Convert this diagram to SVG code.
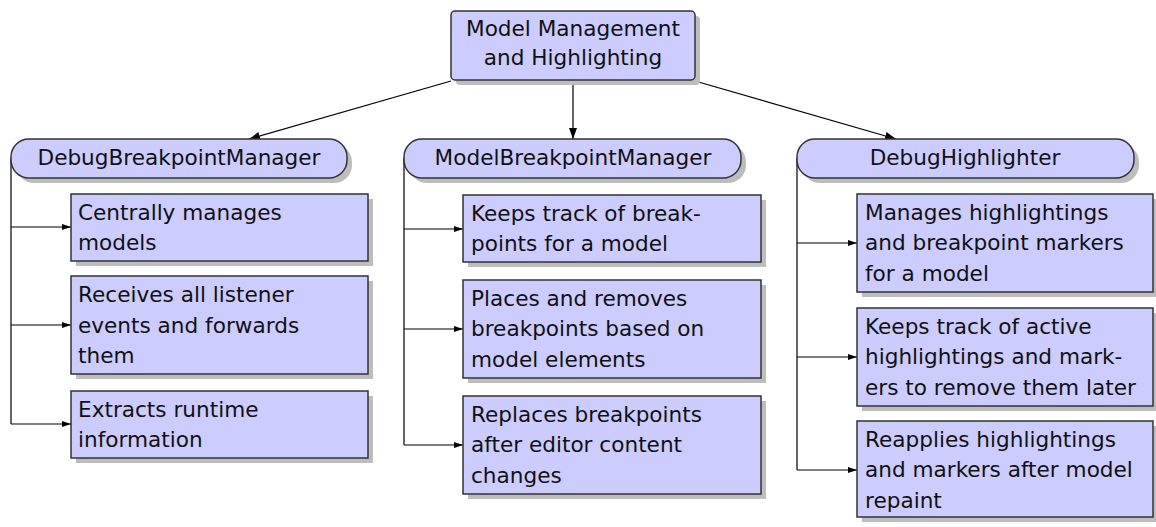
<svg xmlns="http://www.w3.org/2000/svg" width="1156" height="527" viewBox="0 0 1156 527">
<defs>
<marker id="big" markerWidth="12" markerHeight="10" refX="11" refY="4" orient="auto" markerUnits="userSpaceOnUse"><path d="M0,0 L11,4 L0,8 z" fill="#000"/></marker>
<marker id="sm" markerWidth="10" markerHeight="8" refX="9" refY="3" orient="auto" markerUnits="userSpaceOnUse"><path d="M0,0 L9,3 L0,6 z" fill="#000"/></marker>
</defs>
<style>
.box{fill:#ccccff;stroke:#333;stroke-width:1.5}
.sh{fill:#bdbdbd}
.t{font-family:"DejaVu Sans",sans-serif;font-size:21.6px;fill:#111}
.c{text-anchor:middle}
.ln{fill:none;stroke:#000;stroke-width:1.2}
</style>
<rect width="1156" height="527" fill="#fff"/>
<g id="connectors">
<line class="ln" x1="451" y1="81" x2="249" y2="139" marker-end="url(#big)"/>
<line class="ln" x1="573" y1="81" x2="573" y2="139" marker-end="url(#big)"/>
<line class="ln" x1="695" y1="81" x2="896" y2="139" marker-end="url(#big)"/>
<path class="ln" d="M11,158 V424"/>
<line class="ln" x1="11" y1="227" x2="71" y2="227" marker-end="url(#sm)"/>
<line class="ln" x1="11" y1="325" x2="71" y2="325" marker-end="url(#sm)"/>
<line class="ln" x1="11" y1="424" x2="71" y2="424" marker-end="url(#sm)"/>
<path class="ln" d="M404,158 V445"/>
<line class="ln" x1="404" y1="229" x2="463" y2="229" marker-end="url(#sm)"/>
<line class="ln" x1="404" y1="329" x2="463" y2="329" marker-end="url(#sm)"/>
<line class="ln" x1="404" y1="445" x2="463" y2="445" marker-end="url(#sm)"/>
<path class="ln" d="M797,158 V470"/>
<line class="ln" x1="797" y1="243" x2="857" y2="243" marker-end="url(#sm)"/>
<line class="ln" x1="797" y1="357" x2="857" y2="357" marker-end="url(#sm)"/>
<line class="ln" x1="797" y1="470" x2="857" y2="470" marker-end="url(#sm)"/>
</g>
<g id="root">
<rect class="sh" x="456" y="16" width="244" height="69" rx="4"/>
<rect class="box" x="451" y="11" width="244" height="69" rx="4"/>
<text class="t c" x="573" y="36">Model Management</text>
<text class="t c" x="573" y="65">and Highlighting</text>
</g>
<g id="debugBreakpointManager">
<rect class="sh" x="16" y="144" width="336" height="39" rx="18"/>
<rect class="box" x="11" y="139" width="336" height="39" rx="18"/>
<text class="t c" x="179" y="164.5">DebugBreakpointManager</text>
</g>
<g id="modelBreakpointManager">
<rect class="sh" x="409" y="144" width="337" height="39" rx="18"/>
<rect class="box" x="404" y="139" width="337" height="39" rx="18"/>
<text class="t c" x="573" y="164.5">ModelBreakpointManager</text>
</g>
<g id="debugHighlighter">
<rect class="sh" x="802" y="144" width="337" height="39" rx="18"/>
<rect class="box" x="797" y="139" width="337" height="39" rx="18"/>
<text class="t c" x="965" y="164.5">DebugHighlighter</text>
</g>
<g id="dbm1">
<rect class="sh" x="76" y="199" width="297" height="67"/>
<rect class="box" x="71" y="194" width="297" height="67"/>
<text class="t" x="78" y="219.5">Centrally manages</text>
<text class="t" x="78" y="250">models</text>
</g>
<g id="dbm2">
<rect class="sh" x="76" y="281" width="297" height="98"/>
<rect class="box" x="71" y="276" width="297" height="98"/>
<text class="t" x="78" y="302">Receives all listener</text>
<text class="t" x="78" y="332.5">events and forwards</text>
<text class="t" x="78" y="363">them</text>
</g>
<g id="dbm3">
<rect class="sh" x="76" y="396" width="297" height="67"/>
<rect class="box" x="71" y="391" width="297" height="67"/>
<text class="t" x="78" y="416.5">Extracts runtime</text>
<text class="t" x="78" y="447">information</text>
</g>
<g id="mbm1">
<rect class="sh" x="468" y="200" width="298" height="67"/>
<rect class="box" x="463" y="195" width="298" height="67"/>
<text class="t" x="471" y="221">Keeps track of break-</text>
<text class="t" x="471" y="251">points for a model</text>
</g>
<g id="mbm2">
<rect class="sh" x="468" y="285" width="298" height="98"/>
<rect class="box" x="463" y="280" width="298" height="98"/>
<text class="t" x="471" y="305.5">Places and removes</text>
<text class="t" x="471" y="336">breakpoints based on</text>
<text class="t" x="471" y="366.5">model elements</text>
</g>
<g id="mbm3">
<rect class="sh" x="468" y="401" width="298" height="98"/>
<rect class="box" x="463" y="396" width="298" height="98"/>
<text class="t" x="471" y="421.5">Replaces breakpoints</text>
<text class="t" x="471" y="452">after editor content</text>
<text class="t" x="471" y="482.5">changes</text>
</g>
<g id="dh1">
<rect class="sh" x="862" y="199" width="296" height="98"/>
<rect class="box" x="857" y="194" width="296" height="98"/>
<text class="t" x="865" y="219.5">Manages highlightings</text>
<text class="t" x="865" y="250">and breakpoint markers</text>
<text class="t" x="865" y="280.5">for a model</text>
</g>
<g id="dh2">
<rect class="sh" x="862" y="313" width="296" height="98"/>
<rect class="box" x="857" y="308" width="296" height="98"/>
<text class="t" x="865" y="333.5">Keeps track of active</text>
<text class="t" x="865" y="364">highlightings and mark-</text>
<text class="t" x="865" y="394.5">ers to remove them later</text>
</g>
<g id="dh3">
<rect class="sh" x="862" y="426" width="296" height="96"/>
<rect class="box" x="857" y="421" width="296" height="96"/>
<text class="t" x="865" y="446.5">Reapplies highlightings</text>
<text class="t" x="865" y="477">and markers after model</text>
<text class="t" x="865" y="507.5">repaint</text>
</g>
</svg>
